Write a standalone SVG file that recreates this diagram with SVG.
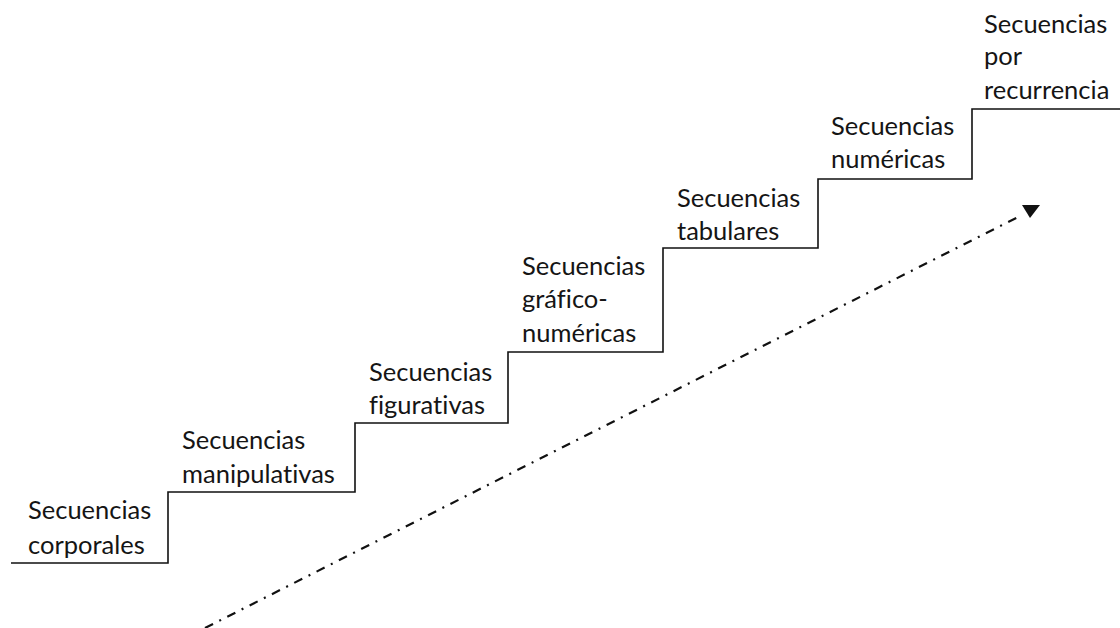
<svg xmlns="http://www.w3.org/2000/svg" width="1120" height="628" viewBox="0 0 1120 628">
<style>
text{font-family:Lato,"Open Sans","Liberation Sans",sans-serif;font-size:25.5px;fill:#151515;font-variant-ligatures:none;font-feature-settings:"liga" 0,"dlig" 0}
.stair{fill:none;stroke:#111;stroke-width:1.6}
.arrow{fill:none;stroke:#111;stroke-width:2.2;stroke-dasharray:9 7 2 7}
</style>
<rect width="1120" height="628" fill="#fff"/>
<g id="connectors">
<path class="stair" d="M11 563H168V492H355V423H508V352H663V248H818V179H972V109H1120"/>
<line class="arrow" x1="205" y1="628" x2="1022" y2="215"/>
<polygon points="1022,205 1040,205 1030,218" fill="#111"/>
</g>
<g id="n1"><text x="28" y="519">Secuencias</text><text x="28" y="554">corporales</text></g>
<g id="n2"><text x="182" y="449">Secuencias</text><text x="182" y="483">manipulativas</text></g>
<g id="n3"><text x="369" y="381">Secuencias</text><text x="369" y="414">figurativas</text></g>
<g id="n4"><text x="522" y="275">Secuencias</text><text x="522" y="308">gráfico-</text><text x="522" y="342">numéricas</text></g>
<g id="n5"><text x="677" y="207">Secuencias</text><text x="677" y="240">tabulares</text></g>
<g id="n6"><text x="831" y="135">Secuencias</text><text x="831" y="168">numéricas</text></g>
<g id="n7"><text x="984" y="33">Secuencias</text><text x="984" y="65">por</text><text x="984" y="99">recurrencia</text></g>
</svg>
